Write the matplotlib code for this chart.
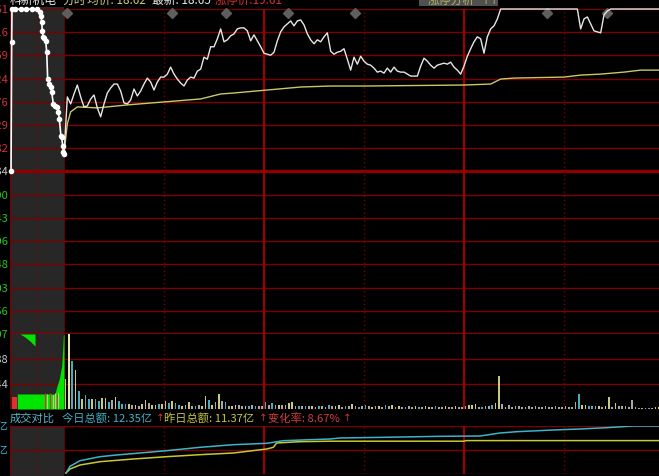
import numpy as np
import matplotlib
matplotlib.use("Agg")
import matplotlib.pyplot as plt
from matplotlib.patches import Rectangle

plt.rcParams['font.family'] = ['Noto Sans CJK SC', 'DejaVu Sans']

# ---- data ----
stock_name = "科新机电"
prev_close = 16.34
limit_up = 19.61
limit_down = 13.07

price_labels_up = ["19.61", "19.16", "18.69", "18.24", "17.76", "17.29", "16.82"]
price_labels_dn = ["15.90", "15.43", "14.96", "14.48", "14.03", "13.56", "13.07"]

# minute price (09:30 -> ~14:00)
price = [16.69, 17.84, 17.70, 17.90, 18.08, 17.84, 17.64, 17.66, 17.80, 17.88,
         17.62, 17.44, 17.70, 17.92, 18.02, 18.10, 18.10, 17.96, 17.72, 17.70,
         17.78, 18.00, 17.86, 17.96, 18.10, 18.22, 18.14, 17.98, 18.14, 18.24,
         18.24, 18.30, 18.44, 18.30, 18.20, 18.12, 18.06, 18.18, 18.24, 18.22,
         18.36, 18.40, 18.64, 18.60, 18.85, 18.85, 19.01, 19.21, 18.95, 18.99,
         19.07, 19.11, 19.21, 19.23, 19.23, 19.17, 18.97, 19.09, 18.97, 18.85,
         18.72, 18.70, 18.68, 18.74, 18.97, 19.15, 19.25, 19.31, 19.37, 19.27,
         19.37, 19.39, 19.29, 19.11, 18.99, 18.91, 18.99, 18.95, 19.05, 19.13,
         18.76, 18.70, 18.74, 18.76, 18.81, 18.60, 18.38, 18.64, 18.50, 18.66,
         18.56, 18.50, 18.48, 18.42, 18.34, 18.36, 18.32, 18.42, 18.34, 18.44,
         18.36, 18.34, 18.34, 18.30, 18.26, 18.26, 18.26, 18.46, 18.62, 18.56,
         18.48, 18.42, 18.48, 18.50, 18.52, 18.50, 18.54, 18.44, 18.38, 18.30,
         18.46, 18.66, 18.81, 18.95, 19.05, 19.01, 18.72, 19.05, 19.21, 19.27,
         19.41] + [19.61] * 24 + [
         19.21, 19.41, 19.45, 19.31, 19.17, 19.15, 19.13, 19.49, 19.57] + [19.61] * 16

avg_t = [0, 1, 2, 4, 10, 19, 41, 47, 51, 61, 71, 80, 90, 120, 128, 131, 135,
         150, 155, 161, 168, 173, 179]
avg_price = [16.69, 17.30, 17.54, 17.64, 17.62, 17.68, 17.80, 17.90, 17.92, 17.98,
             18.04, 18.06, 18.06, 18.08, 18.10, 18.20, 18.22, 18.24, 18.28, 18.30,
             18.34, 18.38, 18.38]

# call auction 09:15 -> 09:25 (minutes from 09:15)
auc_t = [0.19, 0.31, 0.37, 1.0, 2.0, 3.0, 4.0, 5.0, 5.56, 5.74, 5.87, 5.98, 6.17,
         6.35, 6.61, 6.80, 6.98, 7.28, 7.54, 7.72, 8.02, 8.33, 8.76, 8.94, 9.13,
         9.44, 9.57, 9.76, 9.87, 10.0]
auc_price = [16.34, 18.95, 19.61, 19.61, 19.61, 19.61, 19.61, 19.61, 19.55, 19.47,
             19.35, 19.17, 19.05, 19.03, 18.97, 18.74, 18.20, 18.10, 18.04, 17.94,
             17.70, 17.66, 17.64, 17.54, 17.40, 17.05, 17.03, 16.85, 16.73, 16.69]

# volume (hands) per minute
vol_max = 8232
vol_labels = ["5488", "2744"]
volume = [3300, 8230, 5280, 4290, 1980, 1100, 1540, 1100, 1100, 1100,
          880, 1210, 1210, 770, 990, 1320, 880, 550, 550, 550,
          440, 440, 330, 550, 990, 660, 440, 440, 550, 550,
          880, 660, 880, 660, 440, 330, 440, 770, 330, 330,
          440, 330, 1430, 990, 440, 770, 1650, 880, 770, 330,
          330, 440, 440, 330, 330, 330, 440, 330, 330, 330,
          770, 440, 660, 440, 440, 440, 440, 660, 770, 330,
          330, 330, 330, 330, 330, 220, 330, 330, 220, 440,
          330, 330, 440, 220, 330, 330, 550, 330, 220, 330,
          440, 330, 220, 330, 330, 220, 440, 330, 440, 220,
          330, 220, 220, 330, 220, 330, 220, 220, 330, 220,
          220, 330, 220, 220, 330, 220, 220, 330, 220, 220,
          330, 440, 440, 550, 220, 220, 330, 330, 440, 660,
          3630, 550, 220, 440, 220, 330, 330, 220, 220, 330,
          220, 330, 220, 220, 330, 220, 220, 330, 220, 220,
          330, 220, 220, 770, 1650, 440, 440, 330, 330, 330,
          330, 220, 330, 1320, 220, 660, 330, 330, 330, 220,
          990, 220, 110, 110, 110, 110, 110, 220, 220]
vol_kind = ("YWCYCYCCYCCYYCGYCCCY"
            "GYGYYGYYCYYCYCCYGYGC"
            "GYYCYGYGCGYYGGYCGCGG"
            "CGCGYGGYYGCGCGYGCGGC"
            "GYYGCGYGCGCGYGYGCGYG"
            "YGCGGYCGYYGCGGYGGYGG"
            "GYYYGCGGCYYGYGGGGGGG"
            "GGGGGGGGGGGGGGCYYCCG"
            "YGYYGYGGGGGGGGGCGYY")

# auction volume: matched (from bottom) and unmatched (from top)
auc_red_t = [0.31, 1.35]
auc_red_vol = 1317
auc_buy_t = [1.35, 8.33, 8.70, 9.13, 9.57, 9.76, 9.87, 10.0]
auc_buy_vol = [1650, 1650, 2520, 3290, 4720, 6590, 8010, 8232]
auc_sell_t = [1.85, 2.78, 3.70, 4.63]
auc_sell_vol = [0, 330, 770, 1320]
auc_tick_t = [6.48, 6.85, 7.41, 7.91, 8.33, 8.65, 8.94]
auc_tick_vol = [1760, 1650, 1760, 1540, 1760, 1650, 1760]
auc_tick_kind = "RYRYYRY"

# cumulative turnover (100M yuan)
amt_today_t = [0.6, 1.8, 4.8, 10.8, 15.8, 30.8, 40.8, 50.8, 60.8, 65.8, 79.8,
               82.8, 95.7, 112.8, 124.8, 130.8, 135.9, 146.7, 154.8, 162.9,
               170.7, 179]
amt_today = [0.25, 1.92, 3.33, 4.33, 4.75, 5.83, 6.67, 7.33, 7.67, 8.33, 8.75,
             9.0, 9.17, 9.42, 9.5, 10.25, 10.58, 11.0, 11.25, 11.58, 12.0, 12.0]
amt_prev_t = [0.6, 1.8, 4.8, 10.8, 20.8, 30.8, 40.8, 50.8, 60.8, 62.8, 63.8,
              70.8, 79.8, 120.0, 120.6, 179]
amt_prev = [0.25, 1.25, 2.25, 3.08, 3.75, 4.33, 4.83, 5.25, 6.25, 6.67, 7.75,
            8.08, 8.2, 8.2, 8.35, 8.35]
amt_max = 12.0
amt_labels = ["12.00亿", "6.00亿"]

event_t = [0.9, 32.4, 48.6, 67.2, 87.3, 144.9, 162.9]

# ---- layout (pixels) ----
W, H = 659, 477
RED = "#7c0000"
RED_B = "#9a0000"
GREY_BG = "#272727"
kind_col = {"Y": "#c8c882", "C": "#4aaabe", "G": "#a8a8a8", "W": "#e8e8b0",
            "R": "#d23232"}

fig = plt.figure(figsize=(W / 100, H / 100), dpi=100, facecolor="black")


def box(x0, y0, x1, y1, z=1):
    ax = fig.add_axes([x0 / W, 1 - y1 / H, (x1 - x0) / W, (y1 - y0) / H], zorder=z)
    ax.set_facecolor("none")
    ax.set_axis_off()
    return ax


bg = box(0, 0, W, H, z=0)
bg.set_xlim(0, W)
bg.set_ylim(H, 0)
bg.add_patch(Rectangle((10, 8), 54, 402, color=GREY_BG, lw=0))
bg.add_patch(Rectangle((10, 427), 54, 50, color=GREY_BG, lw=0))

t_end = (W - 64) / (100 / 30)
price_ticks = np.linspace(limit_up, limit_down, 15)


def vlines(ax, auction=False):
    if auction:
        ax.axvline(0, color=RED, lw=1)
        ax.axvline(5, color=RED, lw=1, ls=(0, (1, 2)))
    else:
        ax.axvline(0, color=RED, lw=1.2)
        for t in (30, 90, 150):
            ax.axvline(t, color=RED, lw=1, ls=(0, (1, 2)))
        for t in (60, 120):
            ax.axvline(t, color=RED_B, lw=1.6)


# price panels
ax_p = box(64, 10, W, 335)
ax_pa = box(10, 10, 64, 335)
for ax, auc in ((ax_p, False), (ax_pa, True)):
    ax.set_ylim(limit_down, limit_up)
    for k, v in enumerate(price_ticks):
        thick = k in (7, 14)
        ax.axhline(v, color="#8c0000" if thick else RED, lw=2.4 if thick else 1)
    vlines(ax, auc)
ax_p.set_xlim(0, t_end)
ax_pa.set_xlim(0, 10)

ax_p.plot(avg_t, avg_price, color="#c8c864", lw=1, zorder=3)
ax_p.plot(np.arange(len(price)), price, color="#e6e6e6", lw=1, zorder=4, clip_on=False)
ax_pa.plot(auc_t, auc_price, color="white", lw=1.2, marker="o", ms=3,
           zorder=4, clip_on=False)
ax_p.plot(event_t, [0.988] * len(event_t), ls="none", marker="D", ms=5,
          color="#5e5e5e", transform=ax_p.get_xaxis_transform(), clip_on=False)

# volume panels
ax_v = box(64, 335, W, 410)
ax_va = box(10, 335, 64, 410)
for ax, auc in ((ax_v, False), (ax_va, True)):
    ax.set_ylim(0, vol_max)
    for v in (vol_max * 2 / 3, vol_max / 3, 0):
        ax.axhline(v, color=RED, lw=1)
    vlines(ax, auc)
ax_v.set_xlim(0, t_end)
ax_va.set_xlim(0, 10)
ax_v.bar(np.arange(len(volume)) + 0.45, volume, width=0.45,
         color=[kind_col[k] for k in vol_kind], zorder=3)
ax_va.fill_between(auc_red_t, 0, auc_red_vol, color="#e03030", lw=0, zorder=3)
ax_va.fill_between(auc_buy_t, 0, auc_buy_vol, color="#00e600", lw=0, zorder=3)
ax_va.fill_between(auc_sell_t, vol_max, vol_max - np.array(auc_sell_vol),
                   color="#00e600", lw=0, zorder=3)
ax_va.vlines(auc_tick_t, 0, auc_tick_vol, colors=[kind_col[k] for k in auc_tick_kind],
             lw=0.8, zorder=4)

# turnover panels
ax_a = box(64, 427, W, 475)
ax_aa = box(10, 427, 64, 475)
for ax, auc in ((ax_a, False), (ax_aa, True)):
    ax.set_ylim(0, amt_max)
    for v in (amt_max, amt_max / 2, 0):
        ax.axhline(v, color=RED, lw=1)
    vlines(ax, auc)
ax_a.set_xlim(0, t_end)
ax_aa.set_xlim(0, 10)
ax_a.plot(amt_prev_t, amt_prev, color="#c8c832", lw=1.1, zorder=3)
ax_a.plot(amt_today_t, amt_today, color="#3cb4c8", lw=1.1, zorder=4)


# left axis labels (clipped by the figure edge like the screenshot)
def left_label(ax, val, text, color):
    ax.annotate(text, xy=(0, val), xycoords=("axes fraction", "data"),
                xytext=(-2, 0), textcoords="offset pixels", ha="right",
                va="center", color=color, fontsize=8, annotation_clip=False)


for v, s in zip(price_ticks[:7], price_labels_up):
    left_label(ax_pa, v, s, "#d23232")
left_label(ax_pa, prev_close, f"{prev_close:.2f}", "#c8c8c8")
for v, s in zip(price_ticks[8:], price_labels_dn):
    left_label(ax_pa, v, s, "#28c828")
for v, s in zip((vol_max * 2 / 3, vol_max / 3), vol_labels):
    left_label(ax_va, v, s, "#c8c8c8")
for v, s in zip((amt_max, amt_max / 2), amt_labels):
    left_label(ax_aa, v, s, "#3cb4c8")

# header (cut off at the top of the screenshot)
hdr = [(10, stock_name, "#e6e6e6"), (62, "分时", "#d2d296"),
       (87, "均价: 18.62", "#c8c87d"), (152, "最新: 18.65", "#e6e6e6"),
       (215, "涨停价:19.61", "#d23232")]
for x, s, c in hdr:
    bg.text(x, 0.5, s, color=c, fontsize=8.5, ha="left", va="center")
bg.add_patch(Rectangle((419, -6), 79, 13, color="#505050", lw=0))
bg.text(428, 0.5, "涨停分析", color="#b4b464", fontsize=8.5, va="center")
bg.text(482, 0.5, "↑↑", color="#b4b464", fontsize=7, va="center",
        family=["DejaVu Sans"])

# turnover comparison row
row = [(10, "成交对比", "#5ab4c8"), (62, "今日总额: 12.35亿", "#3cb4c8"),
       (164, "昨日总额: 11.37亿", "#c8c83c"), (268, "变化率: 8.67%", "#d23c3c")]
for x, s, c in row:
    bg.text(x, 418.5, s, color=c, fontsize=8.1, ha="left", va="center")
for x in (156, 259, 343):
    bg.text(x, 418.5, "↑", color="#d23232", fontsize=7.5, ha="left", va="center",
            family=["DejaVu Sans"])

fig.savefig("out.png", dpi=100, facecolor="black")
